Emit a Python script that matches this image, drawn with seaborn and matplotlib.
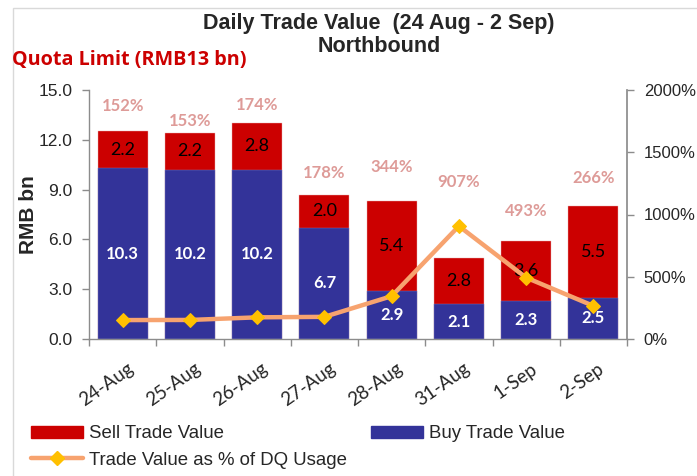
import numpy as np
import pandas as pd
import matplotlib
matplotlib.use("Agg")
import matplotlib.pyplot as plt
import matplotlib.transforms as mtransforms
import seaborn as sns
from matplotlib.patches import Patch, Rectangle
from matplotlib.lines import Line2D
from matplotlib.ticker import FixedLocator, FuncFormatter

# ---- data ----
dates = ["24-Aug", "25-Aug", "26-Aug", "27-Aug", "28-Aug", "31-Aug", "1-Sep", "2-Sep"]
buy = [10.3, 10.2, 10.2, 6.7, 2.9, 2.1, 2.3, 2.5]
sell = [2.2, 2.2, 2.8, 2.0, 5.4, 2.8, 3.6, 5.5]
dq_pct = [152, 153, 174, 178, 344, 907, 493, 266]
left_ticks = [0.0, 3.0, 6.0, 9.0, 12.0, 15.0]
right_ticks = [0, 500, 1000, 1500, 2000]

# layout: heights (left-axis units) of the percentage labels
pct_label_y = [14.05, 13.15, 14.1, 10.0, 10.35, 9.45, 7.7, 9.7]

sns.set_theme(style="white")
plt.rcParams['font.family'] = ['Liberation Sans', 'DejaVu Sans']

RED = "#CC0000"
BLUE = "#333399"
ORANGE = "#F7A36F"
GOLD = "#FFC000"
PINK = "#DE9B98"
GRAY = "#8C8C8C"

df = pd.DataFrame({"date": dates, "buy": buy, "sell": sell})
df["total"] = df["buy"] + df["sell"]

fig = plt.figure(figsize=(6.97, 4.76), dpi=100)
ax = fig.add_axes([89/697, 1-339/476, (627-89)/697, (339-90)/476])

sns.barplot(data=df, x="date", y="total", color=RED, width=0.74, ax=ax,
            saturation=1, edgecolor="#E8B0B0", linewidth=0.3)
sns.barplot(data=df, x="date", y="buy", color=BLUE, width=0.74, ax=ax,
            saturation=1, edgecolor="#8080C0", linewidth=0.3)

ax.set_xlim(-0.5, len(dates) - 0.5)
ax.set_ylim(0, 15)
ax.set_yticks(left_ticks)
ax.yaxis.set_major_formatter(FuncFormatter(lambda v, p: f"{v:.1f}"))
ax.set_xlabel("")
ax.set_ylabel("RMB bn", fontsize=15, fontweight="bold")
ax.yaxis.set_label_coords((38 - 89) / 538, 0.5)

for s in ["top", "right"]:
    ax.spines[s].set_visible(False)
for s in ["left", "bottom"]:
    ax.spines[s].set_color(GRAY)
    ax.spines[s].set_linewidth(1.0)

ax.tick_params(axis="y", which="major", direction="out", length=5, width=1,
               color=GRAY, labelsize=12.5, pad=7, left=True)
ax.tick_params(axis="x", which="major", length=0, labelsize=13.5, pad=15)
ax.xaxis.set_minor_locator(FixedLocator(np.arange(-0.5, len(dates), 1.0)))
ax.tick_params(axis="x", which="minor", direction="out", length=5, width=1,
               color=GRAY, bottom=True)
shift = mtransforms.ScaledTranslation(4/100, 0, fig.dpi_scale_trans)
for lbl in ax.get_xticklabels():
    lbl.set_rotation(35)
    lbl.set_ha("right")
    lbl.set_rotation_mode("anchor")
    lbl.set_fontfamily(["Lato", "DejaVu Sans"])
    lbl.set_transform(lbl.get_transform() + shift)

# value labels
x = np.arange(len(dates))
for i in range(len(dates)):
    ax.text(x[i], buy[i] / 2, f"{buy[i]:.1f}", ha="center", va="center",
            color="white", fontsize=12, fontweight="bold",
            family=["Lato", "DejaVu Sans"])
    ax.text(x[i], buy[i] + sell[i] / 2, f"{sell[i]:.1f}", ha="center", va="center",
            color="black", fontsize=13, family=["Lato", "DejaVu Sans"])
    ax.text(x[i], pct_label_y[i], f"{dq_pct[i]}%", ha="center", va="center",
            color=PINK, fontsize=12, fontweight="bold",
            family=["Lato", "DejaVu Sans"])

# right axis line
ax2 = ax.twinx()
sns.lineplot(x=x, y=dq_pct, ax=ax2, color=ORANGE, linewidth=3.2,
             marker="D", markersize=7.5, markerfacecolor=GOLD,
             markeredgecolor=GOLD, legend=False)
ax2.set_ylim(0, 2000)
ax2.set_yticks(right_ticks)
ax2.yaxis.set_major_formatter(FuncFormatter(lambda v, p: f"{int(v)}%"))
ax2.set_ylabel("")
for s in ["top", "left", "bottom"]:
    ax2.spines[s].set_visible(False)
ax2.spines["right"].set_color(GRAY)
ax2.tick_params(axis="y", direction="out", length=5, width=1, color=GRAY,
                labelsize=12, pad=7, right=True)
ax2.set_xlim(-0.5, len(dates) - 0.5)

# titles
fig.text(379/697, 1-23/476, "Daily Trade Value  (24 Aug - 2 Sep)", ha="center",
         va="center", fontsize=15.5, fontweight="bold")
fig.text(379/697, 1-47/476, "Northbound", ha="center", va="center",
         fontsize=15.5, fontweight="bold")
fig.text(12/697, 1-60/476, "Quota Limit (RMB13 bn)", ha="left", va="center",
         fontsize=14.2, fontweight="bold", color=RED,
         family=["Open Sans", "DejaVu Sans"])

# figure border
fig.add_artist(Rectangle((13/697, -0.1), 1.2, 1.1 - 8/476, transform=fig.transFigure,
                         fill=False, edgecolor="#D9D9D9", linewidth=1.0))

# legend
handles = [Patch(facecolor=RED, edgecolor=RED),
           Line2D([], [], color=ORANGE, linewidth=3.2, marker="D", markersize=7,
                  markerfacecolor=GOLD, markeredgecolor=GOLD),
           Patch(facecolor=BLUE, edgecolor=BLUE)]
labels = ["Sell Trade Value", "Trade Value as % of DQ Usage", "Buy Trade Value"]
fig.legend(handles, labels, ncol=2, loc="upper left",
           bbox_to_anchor=(22/697, 1-416/476), frameon=False, fontsize=13.4,
           handlelength=2.8, handleheight=0.65, handletextpad=0.3,
           columnspacing=1.3, labelspacing=0.5, borderpad=0)

fig.savefig("out.png", dpi=100)
